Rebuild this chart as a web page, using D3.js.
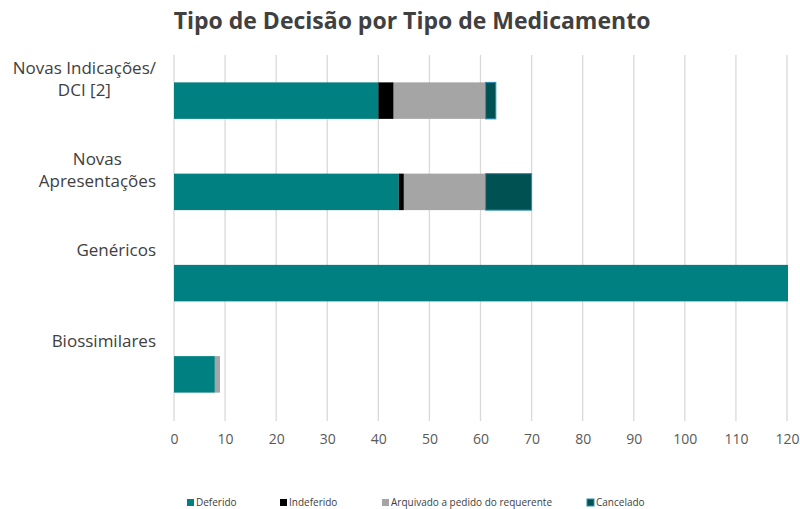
<!DOCTYPE html>
<html>
<head>
<meta charset="utf-8">
<script src="https://cdn.jsdelivr.net/npm/d3@7"></script>
<style>
  body { margin: 0; background: #fff; }
  svg { font-family: "Open Sans", "Noto Sans", sans-serif; }
</style>
</head>
<body>
<div id="chart"></div>
<script>
const categories = [
  ["Novas Indicações/", "DCI [2]"],
  ["Novas", "Apresentações"],
  ["Genéricos"],
  ["Biossimilares"]
];
const seriesNames = ["Deferido", "Indeferido", "Arquivado a pedido do requerente", "Cancelado"];
const deferido = [40, 44, 300, 8];
const indeferido = [3, 1, 0, 0];
const arquivado = [18, 16, 0, 1];
const cancelado = [2, 9, 0, 0];
const xTicks = [0, 10, 20, 30, 40, 50, 60, 70, 80, 90, 100, 110, 120];

const colors = ["#008080", "#000000", "#a5a5a5", "#005252"];
const strokes = [null, null, null, "#2b8cba"];

const width = 800, height = 509;
const margin = { top: 55, right: 13, bottom: 89, left: 174 };

const svg = d3.select("#chart").append("svg")
  .attr("width", width)
  .attr("height", height);

const x = d3.scaleLinear().domain([0, 120]).range([margin.left, width - margin.right]);
const y = d3.scaleBand().domain(d3.range(categories.length))
  .range([margin.top, height - margin.bottom]).paddingInner(0.6).paddingOuter(0.3);

const rows = categories.map((c, i) => ({
  i,
  Deferido: deferido[i],
  Indeferido: indeferido[i],
  "Arquivado a pedido do requerente": arquivado[i],
  Cancelado: cancelado[i]
}));
const stacked = d3.stack().keys(seriesNames)(rows);

// title
svg.append("text")
  .attr("x", 412).attr("y", 29)
  .attr("text-anchor", "middle")
  .attr("font-size", 23).attr("font-weight", "bold")
  .attr("fill", "#404040")
  .text("Tipo de Decisão por Tipo de Medicamento");

// gridlines
svg.append("g").selectAll("line")
  .data(xTicks)
  .join("line")
  .attr("x1", d => x(d)).attr("x2", d => x(d))
  .attr("y1", margin.top).attr("y2", height - margin.bottom + 1)
  .attr("stroke", "#d9d9d9").attr("stroke-width", 1.3);

// x axis labels
const xAxis = svg.append("g")
  .attr("transform", `translate(0,${height - margin.bottom + 14})`)
  .call(d3.axisBottom(x).tickValues(xTicks).tickSize(0).tickPadding(0));
xAxis.select(".domain").remove();
xAxis.selectAll("text").attr("font-size", 14).attr("fill", "#595959")
  .attr("font-family", "\"Open Sans\", sans-serif");

// bars
svg.append("clipPath").attr("id", "plot")
  .append("rect")
  .attr("x", margin.left).attr("y", margin.top)
  .attr("width", x(120) - margin.left + 1).attr("height", height - margin.top - margin.bottom);

const g = svg.append("g").attr("clip-path", "url(#plot)");
g.selectAll("g")
  .data(stacked)
  .join("g")
  .attr("fill", (d, i) => colors[i])
  .attr("stroke", (d, i) => strokes[i])
  .attr("stroke-width", 1)
  .selectAll("rect")
  .data(d => d.filter(s => s[1] - s[0] > 0))
  .join("rect")
  .attr("x", d => x(d[0]))
  .attr("y", d => y(d.data.i))
  .attr("width", d => Math.min(x(d[1]), x(120) + 1) - x(d[0]))
  .attr("height", y.bandwidth());

// category labels
const labelRight = 156;
categories.forEach((lines, i) => {
  const t = svg.append("text")
    .attr("font-size", 17).attr("fill", "#404040")
    .attr("text-anchor", "middle");
  const spans = lines.map((l, k) => t.append("tspan")
    .attr("y", y(i) + y.bandwidth() / 2 - 33 + k * 22 + 6)
    .text(l));
  const w = d3.max(spans, s => s.node().getComputedTextLength());
  spans.forEach(s => s.attr("x", labelRight - w / 2));
});

// legend
const legendX = [187, 280, 382, 587];
const legend = svg.append("g");
seriesNames.forEach((name, i) => {
  legend.append("rect")
    .attr("x", legendX[i]).attr("y", 499)
    .attr("width", 7).attr("height", 7)
    .attr("fill", colors[i])
    .attr("stroke", strokes[i]);
  legend.append("text")
    .attr("x", legendX[i] + 9).attr("y", 506)
    .attr("font-size", 10).attr("fill", "#404040")
    .text(name);
});
</script>
</body>
</html>
